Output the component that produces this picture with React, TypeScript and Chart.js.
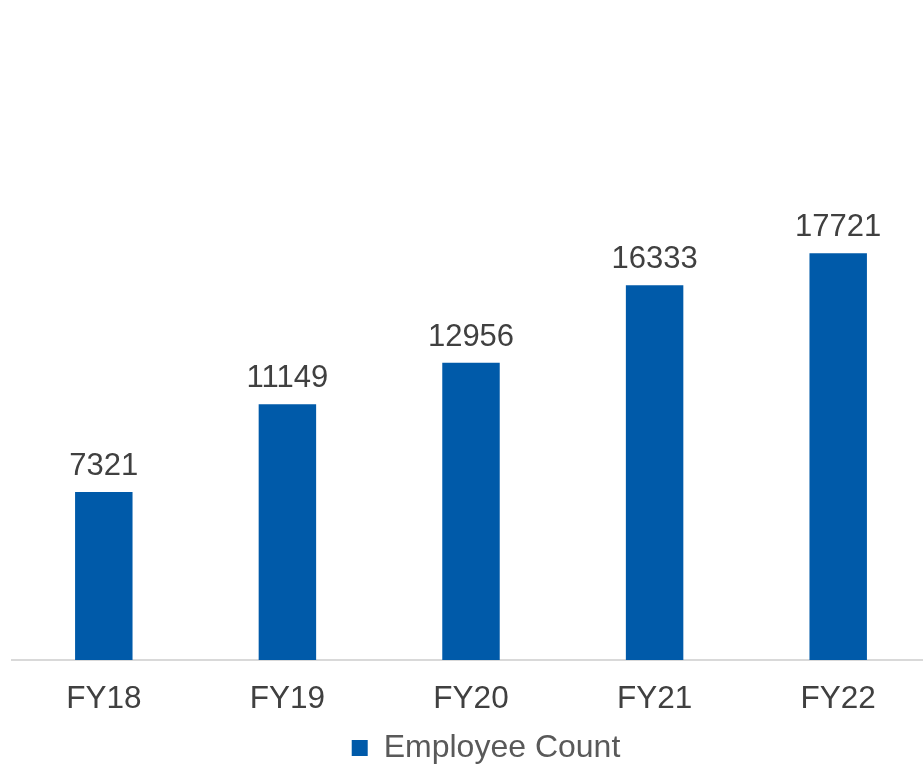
import React, { useEffect, useRef } from "react";
import { Chart, registerables } from "chart.js";

Chart.register(...registerables);

const categories = ["FY18", "FY19", "FY20", "FY21", "FY22"];
const employeeCount = [7321, 11149, 12956, 16333, 17721];
const seriesLabel = "Employee Count";

const FONT = "'Liberation Sans', Arial, sans-serif";
const BAR_COLOR = "#005AA9";

const valueLabels = {
  id: "valueLabels",
  afterDatasetsDraw(chart: any) {
    const ctx = chart.ctx;
    ctx.save();
    ctx.font = `31px ${FONT}`;
    ctx.fillStyle = "#404040";
    ctx.textAlign = "center";
    ctx.textBaseline = "alphabetic";
    chart.data.datasets.forEach((ds: any, di: number) => {
      const meta = chart.getDatasetMeta(di);
      meta.data.forEach((bar: any, i: number) => {
        ctx.fillText(String(ds.data[i]), bar.x, bar.y - 17);
      });
    });
    ctx.restore();
  },
};

const legendNudge = {
  id: "legendNudge",
  afterLayout(chart: any) {
    const l = chart.legend;
    if (!l) return;
    l.left += 15;
    l.right += 15;
    l.top += 3;
    l.bottom += 3;
  },
};

export default function App() {
  const ref = useRef<HTMLCanvasElement>(null);
  useEffect(() => {
    if (!ref.current) return;
    const chart = new Chart(ref.current, {
      type: "bar",
      data: {
        labels: categories,
        datasets: [
          {
            label: seriesLabel,
            data: employeeCount,
            backgroundColor: BAR_COLOR,
            barPercentage: 0.313,
            categoryPercentage: 1,
          },
        ],
      },
      options: {
        responsive: false,
        animation: false,
        layout: { padding: { left: 12, right: 38, top: 201, bottom: -7 } },
        scales: {
          x: {
            grid: { display: false, drawTicks: false },
            border: { display: true, color: "#d9d9d9", width: 2 },
            ticks: { color: "#404040", font: { size: 31.5, family: FONT }, padding: 20 },
            afterFit: (scale: any) => {
              scale.height = 64;
            },
          },
          y: { display: false, min: 0, max: 20000 },
        },
        plugins: {
          legend: {
            position: "bottom",
            labels: {
              color: "#595959",
              font: { size: 32, family: FONT },
              boxWidth: 16,
              boxHeight: 16,
              padding: 5,
            },
          },
          tooltip: { enabled: false },
        },
      },
      plugins: [valueLabels, legendNudge],
    });
    return () => chart.destroy();
  }, []);
  return (
    <div style={{ position: "absolute", left: 0, top: 0, width: 923, height: 764, overflow: "hidden", background: "#fff" }}>
      <canvas ref={ref} width={968} height={764} />
    </div>
  );
}
